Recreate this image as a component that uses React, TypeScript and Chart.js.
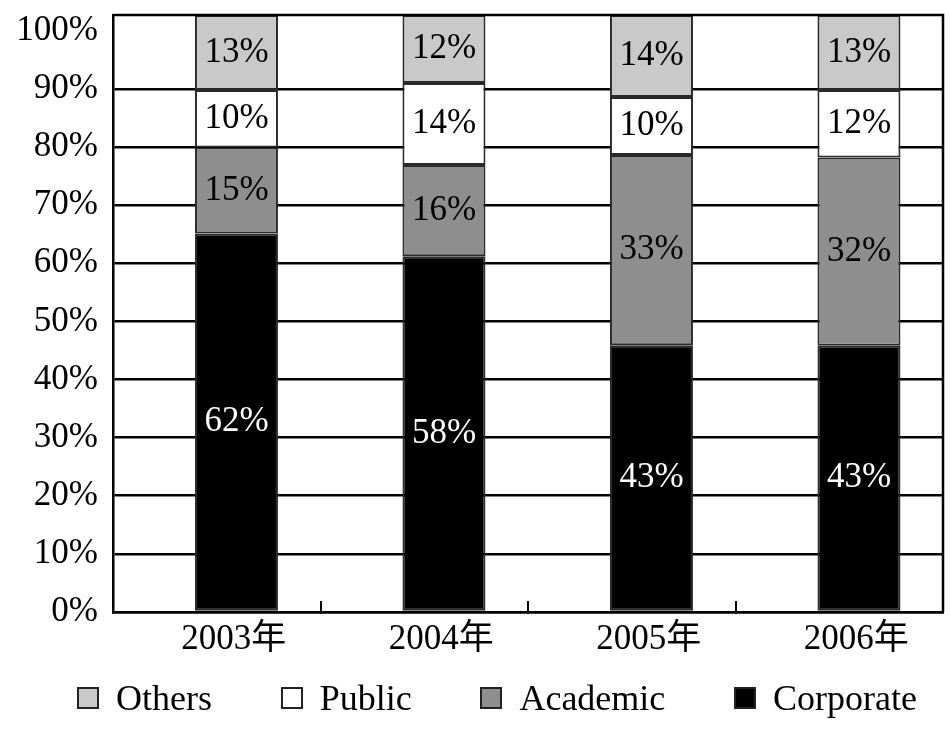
import React, { useEffect, useRef } from 'react';
import { Chart, registerables } from 'chart.js';

Chart.register(...registerables);

// ---- data ----
const years = ['2003年', '2004年', '2005年', '2006年'];
const yTickLabels = ['0%', '10%', '20%', '30%', '40%', '50%', '60%', '70%', '80%', '90%', '100%'];
const yAxisTop = 102.7; // the plot frame reaches slightly above the 100% tick

// segment heights as drawn (axis % units)
const corporate = [65.1, 61.2, 45.9, 45.8];
const academic = [14.8, 15.7, 32.7, 32.4];
const publicShare = [9.9, 14.1, 10.0, 11.6];
const others = [12.9, 11.7, 14.1, 12.9];

// printed segment labels
const corporateLabels = ['62%', '58%', '43%', '43%'];
const academicLabels = ['15%', '16%', '33%', '32%'];
const publicLabels = ['10%', '14%', '10%', '12%'];
const othersLabels = ['13%', '12%', '14%', '13%'];

const seriesNames = ['Corporate', 'Academic', 'Public', 'Others'];

// ---- styles ----
const SERIF = '"Liberation Serif", "Times New Roman", "Noto Sans CJK SC", serif';
const fills: Record<string, string> = {
  Corporate: '#000000',
  Academic: '#8e8e8e',
  Public: '#ffffff',
  Others: '#c9c9c9',
};
const textColors: Record<string, string> = {
  Corporate: '#ffffff',
  Academic: '#000000',
  Public: '#000000',
  Others: '#000000',
};

const seriesValues = [corporate, academic, publicShare, others];
const seriesLabels = [corporateLabels, academicLabels, publicLabels, othersLabels];

const framePlugin = {
  id: 'frameLines',
  afterDatasetsDraw(chart: any) {
    const { ctx, chartArea } = chart;
    const { left, right, top, bottom } = chartArea;
    ctx.save();
    ctx.strokeStyle = '#000';
    ctx.lineWidth = 2.5;
    ctx.beginPath();
    ctx.moveTo(left, top);
    ctx.lineTo(right, top);
    ctx.lineTo(right, bottom);
    ctx.stroke();
    ctx.restore();
  },
};

const segmentLabelPlugin = {
  id: 'segmentLabels',
  afterDatasetsDraw(chart: any) {
    const { ctx } = chart;
    chart.data.datasets.forEach((ds: any, di: number) => {
      const meta = chart.getDatasetMeta(di);
      meta.data.forEach((el: any, i: number) => {
        const { x, y, base } = el.getProps(['x', 'y', 'base'], true);
        ctx.save();
        ctx.font = `35px ${SERIF}`;
        ctx.fillStyle = ds.segmentTextColor;
        ctx.textAlign = 'center';
        ctx.textBaseline = 'middle';
        ctx.fillText(ds.segmentLabels[i], x, (y + base) / 2);
        ctx.restore();
      });
    });
  },
};

export default function App() {
  const canvasRef = useRef<HTMLCanvasElement | null>(null);

  useEffect(() => {
    if (!canvasRef.current) return;
    const datasets = seriesNames.map((name, si) => ({
      label: name,
      data: seriesValues[si].map((v, i) => ({ x: i, y: v })),
      backgroundColor: fills[name],
      borderColor: '#2a2a2a',
      borderWidth: 2,
      borderSkipped: false,
      xAxisID: 'xb',
      yAxisID: 'y',
      categoryPercentage: 0.4,
      barPercentage: 1,
      segmentLabels: seriesLabels[si],
      segmentTextColor: textColors[name],
    }));

    const chart = new Chart(canvasRef.current, {
      type: 'bar',
      data: { labels: years, datasets: datasets as any },
      options: {
        animation: false,
        responsive: true,
        maintainAspectRatio: false,
        layout: { padding: { top: 15, right: 7, bottom: 67, left: 0 } },
        plugins: {
          legend: { display: false },
          tooltip: { enabled: false },
        },
        scales: {
          x: {
            type: 'category',
            position: 'bottom',
            offset: true,
            grid: {
              offset: true,
              drawOnChartArea: false,
              drawTicks: true,
              tickLength: -11,
              color: '#000',
              lineWidth: 2,
            },
            border: { display: true, color: '#000', width: 2.5 },
            ticks: {
              font: { family: SERIF, size: 35 },
              color: '#000',
              padding: 18,
              labelOffset: 17,
              maxRotation: 0,
              autoSkip: false,
            },
            afterFit(scale: any) {
              scale.height = 50;
              scale.paddingLeft = 0;
              scale.paddingRight = 0;
            },
          },
          xb: {
            type: 'linear',
            position: 'bottom',
            display: false,
            stacked: true,
            offset: false,
            min: -0.595,
            max: 3.405,
            grid: { offset: false },
            ticks: { stepSize: 1, includeBounds: false },
          },
          y: {
            type: 'linear',
            position: 'left',
            stacked: true,
            min: 0,
            max: yAxisTop,
            grid: {
              drawTicks: false,
              lineWidth: 2.5,
              color: (ctx: any) => (ctx.tick && ctx.tick.value === 100 ? 'rgba(0,0,0,0)' : '#000'),
            },
            border: { display: true, color: '#000', width: 2.5 },
            ticks: {
              stepSize: 10,
              includeBounds: false,
              font: { family: SERIF, size: 35 },
              color: '#000',
              padding: 15,
              autoSkip: false,
              callback: (_v: any, index: number) => yTickLabels[index],
            },
            afterFit(scale: any) {
              scale.width = 113;
              scale.paddingTop = 0;
              scale.paddingBottom = 0;
            },
          },
        },
      } as any,
      plugins: [framePlugin, segmentLabelPlugin],
    });
    return () => chart.destroy();
  }, []);

  const legendItems = [...seriesNames].reverse();

  return (
    <div style={{ position: 'fixed', left: 0, top: 0, width: 950, height: 729, background: '#fff' }}>
      <div style={{ position: 'absolute', left: 0, top: 0, width: 950, height: 729 }}>
        <canvas ref={canvasRef} />
      </div>
      <div
        style={{
          position: 'absolute',
          left: 77,
          top: 678,
          width: 840,
          height: 40,
          display: 'flex',
          justifyContent: 'space-between',
          alignItems: 'center',
          fontFamily: SERIF,
          fontSize: 36,
          color: '#000',
        }}
      >
        {legendItems.map((name) => (
          <div key={name} style={{ display: 'flex', alignItems: 'center' }}>
            <span
              style={{
                display: 'inline-block',
                width: 22,
                height: 22,
                boxSizing: 'border-box',
                border: '2px solid #222',
                background: fills[name],
                marginRight: 17,
              }}
            />
            <span style={{ lineHeight: '36px' }}>{name}</span>
          </div>
        ))}
      </div>
    </div>
  );
}
